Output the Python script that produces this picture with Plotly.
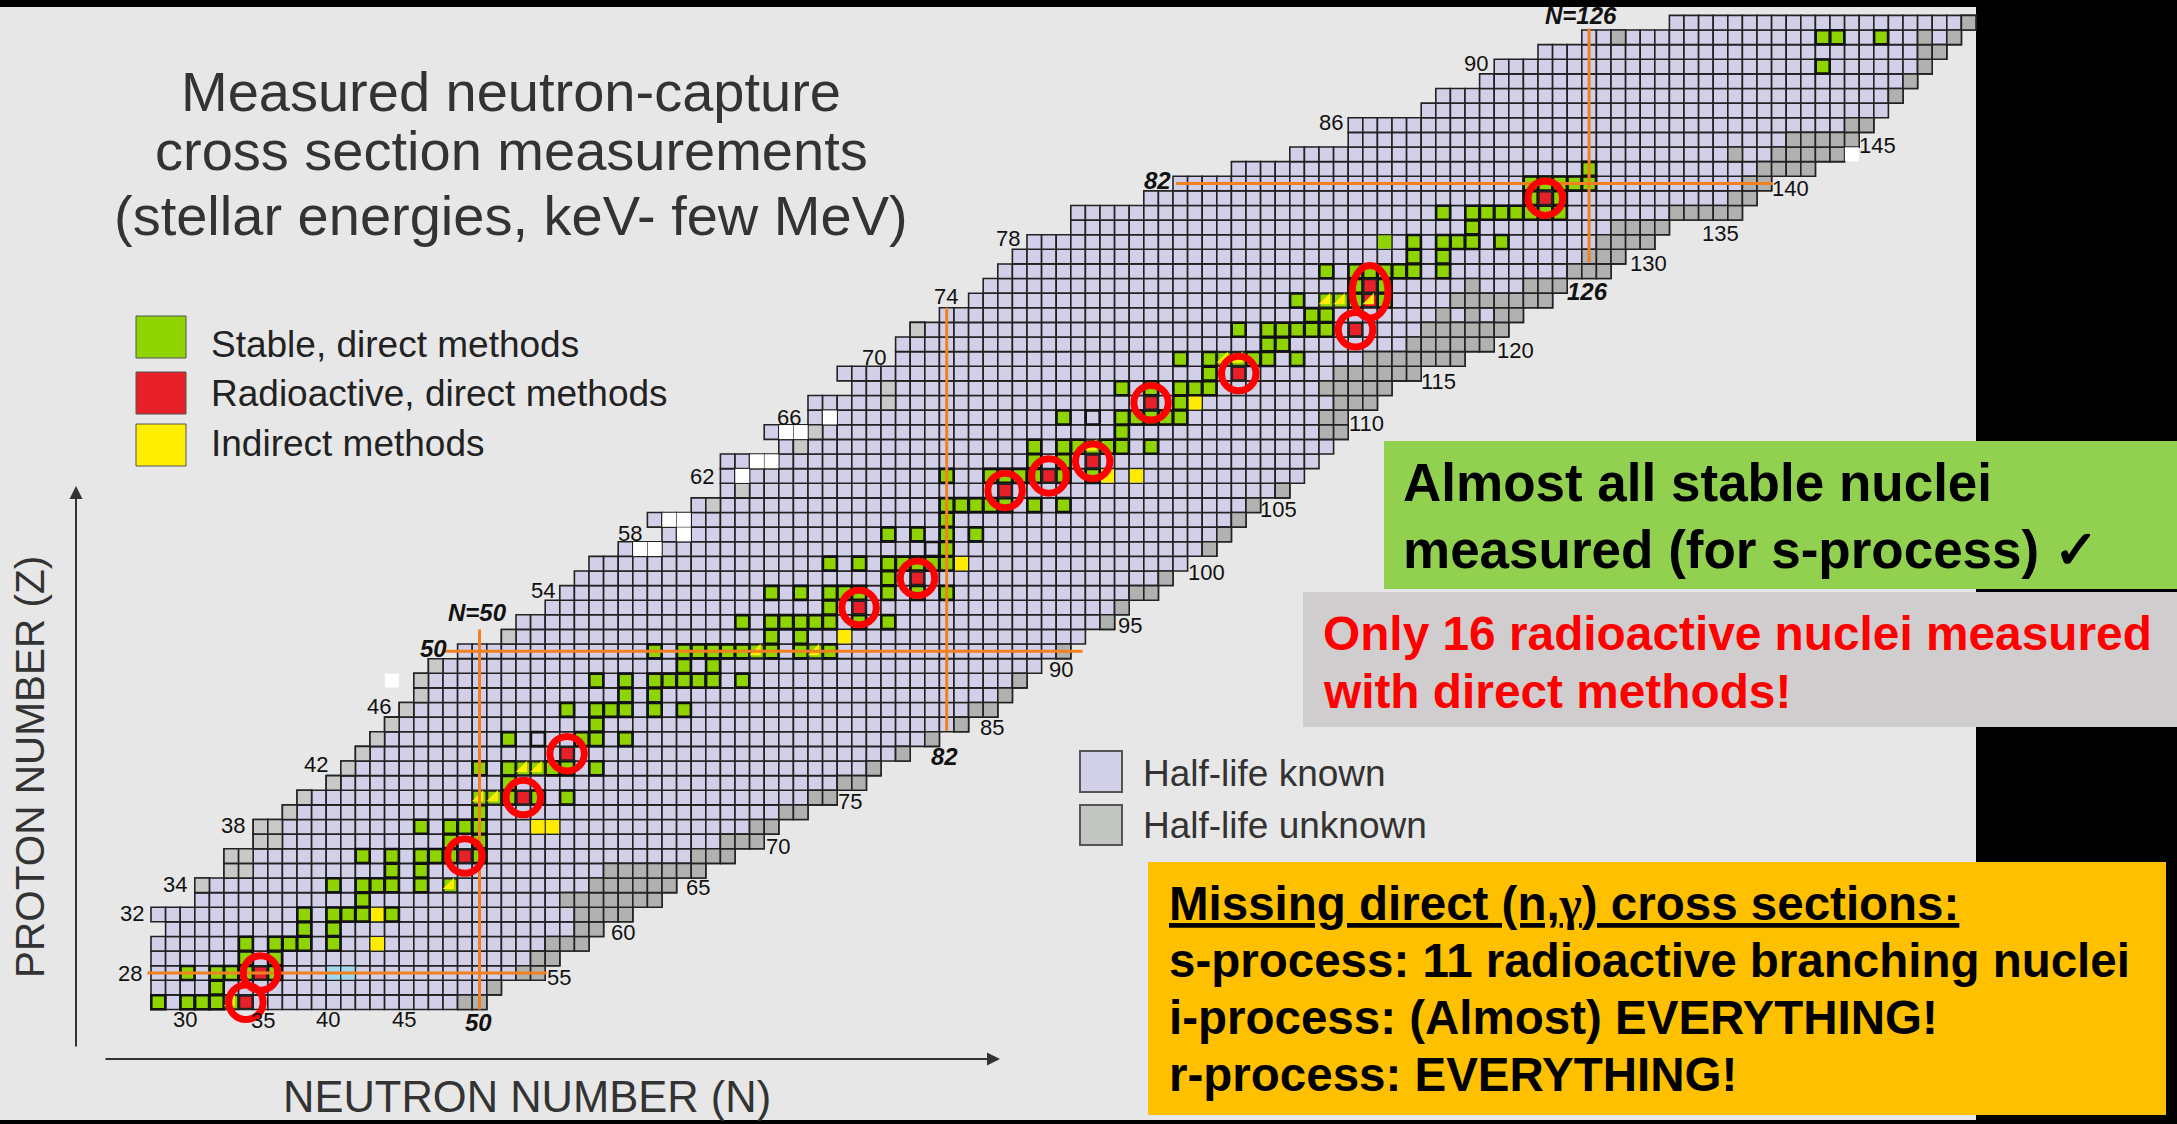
import plotly.graph_objects as go

W, H = 2177, 1124

# Chart extent: proton number Z (rows) with first and last neutron number N
Z_ROWS = list(range(26, 94))
N_START = [28,28,28,28,28,29,28,31,31,33,33,35,35,37,38,40,41,42,43,44,45,46,46,47,49,52,53,55,56,57,58,60,63,62,
           65,67,67,67,71,70,73,73,76,75,79,79,80,82,84,85,86,87,88,91,91,96,98,102,106,110,110,115,116,119,120,123,126,132]
N_END = [50,51,54,55,57,58,60,62,63,65,67,69,70,72,74,76,77,79,81,83,85,86,87,88,90,91,93,94,96,97,98,100,101,102,
         103,105,106,107,108,109,109,111,112,114,117,119,120,121,123,124,127,128,130,131,136,137,138,141,143,144,145,146,147,148,149,150,151,152]

# Half-life unknown: (Z, [N...]) near the stability-far edges
UNKNOWN_LIGHT = [(34,[31]),(35,[33,34]),(36,[33,34]),(37,[35,36]),(38,[35,36]),(39,[37]),(40,[38]),(41,[40]),(42,[41]),
                 (43,[42]),(44,[43]),(45,[44]),(46,[45]),(47,[46]),(48,[46]),(49,[47]),(51,[52]),(60,[66]),(61,[68]),
                 (64,[72]),(65,[73]),(67,[78]),(68,[78]),(72,[80])]
UNKNOWN_DARK = [(26,[49,50]),(27,[51]),(28,[53,54]),(29,[54,55]),(30,[55,56,57]),(31,[57,58]),(32,[57,58,59,60]),
                (33,[56,57,58,59,60,61,62]),(34,[58,59,60,61,62,63]),(35,[59,60,61,62,63,64,65]),(36,[65,66,67]),
                (37,[67,68,69]),(38,[69,70]),(39,[71,72]),(40,[73,74]),(41,[75,76]),(42,[77]),(43,[79]),(44,[81]),
                (45,[83]),(46,[84,85]),(47,[86]),(48,[87]),(50,[90]),(52,[93]),(53,[94]),(54,[95,96]),(55,[97]),
                (57,[100]),(58,[101]),(59,[102]),(60,[103]),(61,[105]),(65,[108,109]),(66,[108,109]),(67,[109,110,111]),
                (68,[108,109,110,111,112]),(69,[109,110,111,112,113,114]),(70,[111,112,113,114,115,116,117]),
                (71,[114,115,116,117,118,119]),(72,[115,116,117,118,119,120]),(73,[116,118,120,121]),
                (74,[117,118,119,120,121,122,123]),(75,[118,122,123,124]),(76,[125,126,127]),(77,[126,127,128]),
                (78,[127,128,129,130]),(79,[128,129,130,131]),(80,[132,133,134,135,136]),(81,[136,137]),(82,[137,138]),
                (83,[138,139,140,141]),(84,[136,139,140,141,142,143]),(85,[140,141,142,143,144]),(86,[144,145]),
                (88,[147]),(89,[148]),(90,[149]),(91,[149,150]),(92,[128,149,151]),(93,[152])]
NOT_CHARTED = [(48,[44]),(57,[61,62]),(58,[64]),(59,[63,64]),(62,[68]),(63,[69,70]),(65,[71,72]),(66,[74]),(84,[144])]
OTHER_BLUE = [(28,[40,41])]

# Measured: stable, direct methods
STABLE = [(26,[28,30,31,32]),(27,[32]),(28,[30,32,33,34,36]),(29,[34,36]),(30,[34,36,37,38,40]),(31,[38,40]),
          (32,[38,40,41,42,44]),(33,[42]),(34,[40,42,43,44,46]),(35,[44,46]),(36,[42,44,46,47,48,50]),(37,[48,50]),
          (38,[46,48,49,50]),(39,[50]),(40,[52,54,56]),(41,[52]),(42,[50,52,55,56,58]),(44,[52,57,58,60]),(45,[58]),
          (46,[56,58,59,60,62,64]),(47,[60,62]),(48,[58,60,62,63,64,65,66,68]),(49,[64,66]),
          (50,[62,64,65,66,67,68,70,72,74]),(51,[70,72]),(52,[68,70,71,72,73,74,76,78]),(53,[74]),
          (54,[70,72,74,75,76,78,80,82]),(55,[78]),(56,[74,76,78,79,80,81,82]),(57,[82]),(58,[78,80,82,84]),(59,[82]),
          (60,[82,83,84,85,86,88,90]),(62,[82,85,86,87,88,90,92]),(63,[88,90]),(64,[88,90,91,93,94,96]),(65,[94]),
          (66,[90,94,95,96,97,98]),(67,[98]),(68,[94,96,98,99,100]),(69,[100]),(70,[98,100,103,104,106]),(71,[104,105]),
          (72,[102,104,105,106,107,108]),(73,[107,108]),(74,[106,110,112]),(75,[110,112]),
          (76,[108,110,111,112,113,114,116]),(77,[114,116]),(78,[114,116,117,118,120]),(79,[118]),
          (80,[116,118,119,120,121,122,123,124]),(81,[122,124]),(82,[122,123,124,125,126]),(83,[126]),(90,[142]),
          (92,[142,143,146])]
STABLE_NO_EDGE = [(78,[112])]
OPEN_EDGE = [(44,[54]),(57,[81]),(66,[92])]
STABLE_INDIRECT = [(26,[33]),(34,[48]),(40,[50,51]),(42,[53,54]),(50,[69,73]),(64,[92]),(70,[101,102]),(74,[108,109])]
RADIOACTIVE = [(26,[34]),(28,[35]),(36,[49]),(40,[53]),(43,[56]),(53,[76]),(55,[80]),(61,[86]),(62,[89]),(63,[92]),
               (67,[96]),(69,[102]),(72,[110]),(74,[111]),(75,[111]),(81,[123])]
RADIOACTIVE_INDIRECT = [(74,[111])]
INDIRECT = [(30,[43]),(32,[43]),(38,[54,55]),(51,[75]),(56,[83]),(62,[93,95]),(67,[99])]

# Magic-number guide lines
MAGIC_Z = [(28,[27.25,54.6]),(50,[47.65,91.3]),(82,[97.7,138.6])]
MAGIC_N = [(50,[25.5,51.5]),(82,[44.55,73.5]),(126,[76.6,92.6])]
# Red rings: N, Z, radius in N, radius in Z
RING_N = [34,35,49,53,56,76,80,86,89,92,96,102,110,111,123]
RING_Z = [26,28,36,40,43,53,55,61,62,63,67,69,72,74.6,81]
RING_RX = [1.18]*13 + [1.22,1.18]
RING_RY = [1.18]*13 + [1.8,1.18]

# Text
TITLE_LINES = ["Measured neutron-capture", "cross section measurements", "(stellar energies, keV- few MeV)"]
LEGEND_LEFT = ["Stable, direct methods", "Radioactive, direct methods", "Indirect methods"]
LEGEND_RIGHT = ["Half-life known", "Half-life unknown"]
Z_LABELS = [("28",130,973),("32",132,913),("34",175,884),("38",233,825),("42",316,765),("46",379,706),("54",543,590),
            ("58",630,533),("62",702,476),("66",789,417),("70",874,357),("74",946,297),("78",1008,238),("86",1331,122),("90",1476,63)]
N_LABELS = [("30",185,1019),("35",263,1020),("40",328,1019),("45",404,1019),("55",559,977),("60",623,932),("65",698,887),
            ("70",778,846),("75",850,801),("85",992,727),("90",1061,669),("95",1130,625),("100",1206,572),("105",1278,509),
            ("110",1366,423),("115",1438,382),("120",1515,351),("130",1648,263),("135",1720,233),("140",1790,188),("145",1877,146)]
BOLD_LABELS = [("50",433,648),("N=50",477,612),("82",1157,181),("N=126",1581,16),("50",478,1022),("82",944,756),("126",1587,291)]

# Scale: pixel position of N=50 / Z=28 and cell pitch
PITCH_X, PITCH_Y = 14.6, 14.62
X0, Y0 = 479.5, 973
xr = [50 - X0/PITCH_X, 50 + (W-X0)/PITCH_X]
yr = [28 - (H-Y0)/PITCH_Y, 28 + Y0/PITCH_Y]

def flat(rows):
    xs, ys = [], []
    for z, ns in rows:
        for n in ns:
            xs.append(n); ys.append(z)
    return xs, ys

def cells(rows, color, size=14.6, lw=1.6, lc="#222222", symbol="square"):
    xs, ys = flat(rows)
    return go.Scatter(x=xs, y=ys, mode="markers", hoverinfo="skip", showlegend=False,
                      marker=dict(symbol=symbol, size=size, color=color, line=dict(width=lw, color=lc)))

KNOWN = [(z, list(range(a, b+1))) for z, a, b in zip(Z_ROWS, N_START, N_END)]
GREEN, YEL, RED, LAV = "#8fd400", "#ffec00", "#e8202a", "#d2cfe8"
ORANGE = "#f08020"

fig = go.Figure()
fig.add_trace(cells(KNOWN, LAV))
fig.add_trace(cells(UNKNOWN_LIGHT, "#c8cac8"))
fig.add_trace(cells(UNKNOWN_DARK, "#b0b2b0"))
fig.add_trace(cells(NOT_CHARTED, "#ffffff", size=14, lw=0))
fig.add_trace(cells(OTHER_BLUE, "#a0d8ef", size=13, lw=0))
fig.add_trace(cells(INDIRECT, YEL, size=13.4, lw=0))
fig.add_trace(cells(OPEN_EDGE, LAV, size=14, lw=2.6, lc="#111111"))
fig.add_trace(cells(STABLE, GREEN, size=14, lw=2.6, lc="#111111"))
fig.add_trace(cells(STABLE_NO_EDGE, GREEN, size=13.2, lw=0))
fig.add_trace(cells(STABLE_INDIRECT, GREEN, size=13.4, lw=1.6))
fig.add_trace(cells(RADIOACTIVE, RED, size=13.2, lw=2, lc="#222222"))
fig.add_trace(cells(STABLE_INDIRECT + RADIOACTIVE_INDIRECT, YEL, size=12.6, lw=0, symbol="triangle-se"))

for z, (a, b) in MAGIC_Z:
    fig.add_trace(go.Scatter(x=[a, b], y=[z, z], mode="lines", hoverinfo="skip", showlegend=False,
                             line=dict(color=ORANGE, width=3)))
for n, (a, b) in MAGIC_N:
    fig.add_trace(go.Scatter(x=[n, n], y=[a, b], mode="lines", hoverinfo="skip", showlegend=False,
                             line=dict(color=ORANGE, width=3)))

def px(x): return x / W
def py(y): return 1 - y / H

shapes = [dict(type="rect", xref="paper", yref="paper", x0=0, x1=px(1976), y0=py(1120), y1=py(7),
               fillcolor="#e7e7e7", line_width=0, layer="below")]
for n, z, rx, ry in zip(RING_N, RING_Z, RING_RX, RING_RY):
    shapes.append(dict(type="circle", xref="x", yref="y", x0=n-rx, x1=n+rx, y0=z-ry, y1=z+ry,
                       line=dict(color="#ff0000", width=7), fillcolor="rgba(0,0,0,0)"))

def box(x0, y0, x1, y1, fill, lc=None, lw=0):
    shapes.append(dict(type="rect", xref="paper", yref="paper", x0=px(x0), x1=px(x1), y0=py(y1), y1=py(y0),
                       fillcolor=fill, line=dict(color=lc or fill, width=lw)))

box(136, 316, 186, 358, GREEN, "#555555", 1)
box(136, 372, 186, 414, RED, "#555555", 1)
box(136, 424, 186, 466, "#ffee00", "#555555", 1)
box(1080, 751, 1122, 792, LAV, "#555555", 2)
box(1080, 805, 1122, 845, "#c3c5c3", "#555555", 2)
box(1384, 441, 2177, 589, "#92d050")
box(1303, 592, 2177, 727, "#cfcdce")
box(1148, 862, 2166, 1115, "#ffc000")

FONT = "Liberation Sans, Arial, sans-serif"
anns = []
def txt(s, x, y, size, color="#111111", anchor="center", angle=0):
    anns.append(dict(text=s, xref="paper", yref="paper", x=px(x), y=py(y), xanchor=anchor, yanchor="middle",
                     showarrow=False, textangle=angle, font=dict(family=FONT, size=size, color=color)))

for s, y in zip(TITLE_LINES, [92, 151, 215]):
    txt(s, 511, y, 56, "#333333")
for s, y in zip(LEGEND_LEFT, [344, 393, 444]):
    txt(s, 209, y, 37, "#222222", "left")
for s, y in zip(LEGEND_RIGHT, [773, 825]):
    txt(s, 1141, y, 37, "#333333", "left")
for s, x, y in Z_LABELS + N_LABELS:
    txt(s, x, y, 22)
for s, x, y in BOLD_LABELS:
    txt(f"<b><i>{s}</i></b>", x, y, 24)
txt("PROTON NUMBER (Z)", 30, 767, 40.5, "#333333", angle=-90)
txt("NEUTRON NUMBER (N)", 527, 1097, 43.5, "#333333")
txt("<b>Almost all stable nuclei</b>", 1401, 483, 53, "#000000", "left")
txt("<b>measured (for s-process) ✓</b>", 1401, 549, 53, "#000000", "left")
txt("<b>Only 16 radioactive nuclei measured</b>", 1321, 633, 47.8, "#ff0000", "left")
txt("<b>with direct methods!</b>", 1321, 691, 47.8, "#ff0000", "left")
txt("<b><u>Missing direct (n,<span style='font-family:Liberation Serif'>γ</span>) cross sections:</u></b>", 1167, 903, 47.5, "#000000", "left")
txt("<b>s-process: 11 radioactive branching nuclei</b>", 1167, 960, 47.5, "#000000", "left")
txt("<b>i-process: (Almost) EVERYTHING!</b>", 1167, 1017, 47.5, "#000000", "left")
txt("<b>r-process: EVERYTHING!</b>", 1167, 1074, 47.5, "#000000", "left")

def arrow(x0, y0, x1, y1):
    anns.append(dict(text="", xref="paper", yref="paper", x=px(x1), y=py(y1), ax=x0-x1, ay=y0-y1,
                     axref="pixel", ayref="pixel",
                     showarrow=True, arrowhead=2, arrowsize=1.3, arrowwidth=2, arrowcolor="#333333"))
arrow(76, 1048, 76, 486)
arrow(104, 1059, 1000, 1059)

fig.update_layout(width=W, height=H, margin=dict(l=0, r=0, t=0, b=0), autosize=False,
                  paper_bgcolor="#000000", plot_bgcolor="rgba(0,0,0,0)", showlegend=False,
                  xaxis=dict(range=xr, visible=False, fixedrange=True),
                  yaxis=dict(range=yr, visible=False, fixedrange=True),
                  shapes=shapes, annotations=anns)

fig.write_html("out.html", config={"displayModeBar": False},
               post_script="document.body.style.margin='0';document.body.style.background='#000';")
